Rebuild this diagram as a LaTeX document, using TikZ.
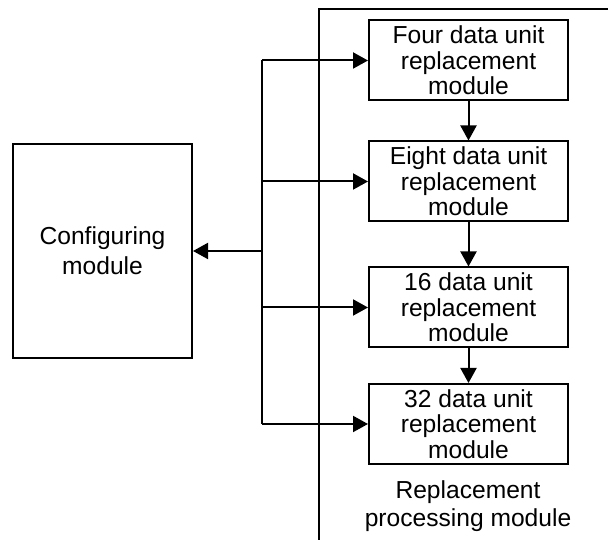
\documentclass[tikz,border=0pt]{standalone}
\usepackage{fontspec}
\setmainfont{Liberation Sans}
\usetikzlibrary{arrows.meta}
\begin{document}
\begin{tikzpicture}[x=1pt,y=1pt,
  line width=2pt,
  modbox/.style={draw, minimum width=199pt, minimum height=80pt, inner sep=0pt, align=center,
    font=\fontsize{24.6}{25.5}\selectfont},
  arr/.style={-{Triangle[length=15pt,width=16pt]}}]
\useasboundingbox (0,0) rectangle (608,540);
% frame of replacement processing module
\coordinate (ftop) at (319,531);
\coordinate (fbot) at (319,0);
\coordinate (fright) at (608,531);
\draw (fbot) -- (ftop) -- (fright);
% modules
\node[modbox] (m1) at (468.5,479.5) {Four data unit\\replacement\\module};
\node[modbox] (m2) at (468.5,358.5) {Eight data unit\\replacement\\module};
\node[modbox] (m3) at (468.5,232.5) {16 data unit\\replacement\\module};
\node[modbox] (m4) at (468.5,116) {32 data unit\\replacement\\module};
\node[draw, minimum width=179pt, minimum height=214pt, inner sep=0pt, align=center,
  font=\fontsize{24.6}{30}\selectfont] (conf) at (102.5,289) {Configuring\\module};
\node[align=center, font=\fontsize{24.6}{28}\selectfont] (lab) at (468,34) {Replacement\\processing module};
% bus
\coordinate (bx) at (262,0);
\draw (m1.west -| bx) -- (m4.west -| bx);
\draw[arr] (m1.west -| bx) -- (m1.west);
\draw[arr] (m2.west -| bx) -- (m2.west);
\draw[arr] (m3.west -| bx) -- (m3.west);
\draw[arr] (m4.west -| bx) -- (m4.west);
\draw[arr] (conf.east -| bx) -- (conf.east);
% chain
\draw[arr] (m1) -- (m2);
\draw[arr] (m2) -- (m3);
\draw[arr] (m3) -- (m4);
\end{tikzpicture}
\end{document}
